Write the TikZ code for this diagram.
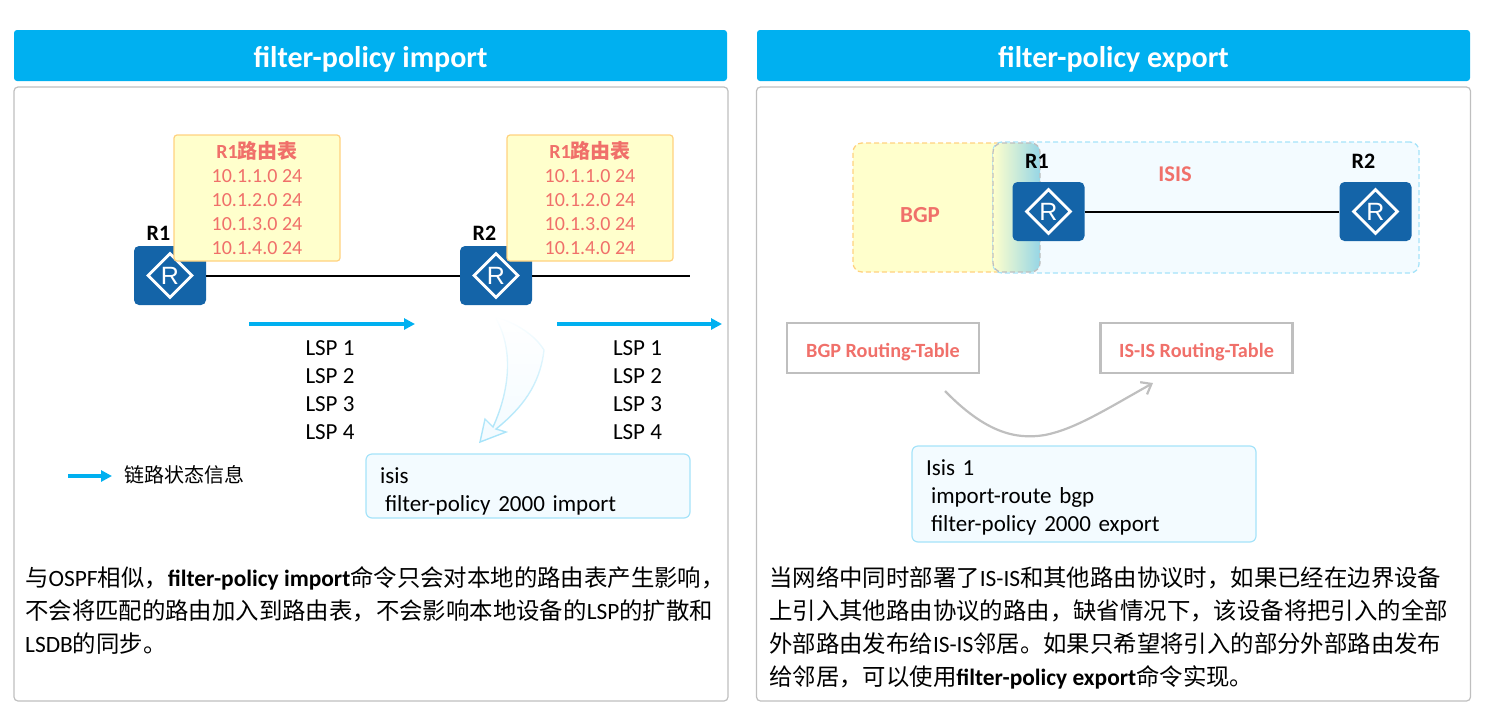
\documentclass[tikz,border=0pt]{standalone}
\usepackage{fontspec}
\setmainfont{Carlito}
\newfontfamily\cjk{Noto Sans CJK SC}
\newfontfamily\routerfont{Liberation Sans}
\usepackage{xcolor}
\usetikzlibrary{positioning,arrows.meta,shapes.geometric,fadings}
\definecolor{headblue}{HTML}{00B0F0}
\definecolor{routerblue}{HTML}{1464A8}
\definecolor{panelgray}{HTML}{BFBFBF}
\definecolor{softred}{HTML}{F0706A}
\definecolor{noteyellow}{HTML}{FFFFCC}
\definecolor{noteedge}{HTML}{FFD27F}
\definecolor{iceblue}{HTML}{F3FBFF}
\definecolor{iceedge}{HTML}{A5E3F9}
\definecolor{mixblue}{HTML}{96D6E6}

\begin{document}
\begin{tikzpicture}[
    x=1pt, y=-1pt,
    header/.style={fill=headblue, rounded corners=3pt, minimum width=713pt, minimum height=51pt, inner sep=0pt, text height=29pt, text depth=5pt, text=white, font=\fontsize{30}{34}\selectfont\bfseries},
    panel/.style={draw=panelgray, line width=1.2pt, rounded corners=4pt, minimum width=714pt, minimum height=614pt, inner sep=0pt},
    routerbox/.style={fill=routerblue, rounded corners=5pt, minimum width=72pt, minimum height=59pt, inner sep=0pt},
    routermark/.style={draw=white, diamond, aspect=1, line width=2.8pt, minimum size=45pt, inner sep=0pt, text=white, font=\routerfont\fontsize{25}{25}\selectfont},
    routername/.style={font=\fontsize{22}{26}\selectfont\bfseries},
    tablebox/.style={draw=noteedge, fill=noteyellow, line width=1.2pt, rounded corners=3pt, minimum width=166pt, minimum height=126pt, inner sep=0pt, align=center, text=softred, font=\fontsize{20}{24}\selectfont},
    lsplist/.style={align=center, inner sep=0pt, font=\fontsize{23}{28}\selectfont},
    cmdbox/.style={draw=iceedge, fill=iceblue, line width=1.2pt, rounded corners=6pt, inner ysep=0pt, inner xsep=14pt, align=left, font=\fontsize{23}{28}\selectfont},
    bodytext/.style={align=left, inner sep=0pt, anchor=north west, font=\fontsize{23.4}{33}\selectfont},
    rib/.style={draw=panelgray, line width=2.4pt, minimum width=192pt, minimum height=50pt, inner sep=0pt, text height=24pt, text depth=4.4pt, text=softred, font=\fontsize{20.2}{24}\selectfont\bfseries},
    zone/.style={dash pattern=on 5pt off 3pt, line width=1.3pt, rounded corners=9pt, inner sep=0pt},
    link/.style={black, line width=2pt},
    lsp/.style={headblue, line width=3.6pt, -{Triangle[length=11pt,width=11pt]}},
    redist/.style={panelgray, line width=2.2pt, -{Straight Barb[length=9pt,width=14pt]}}
]
\useasboundingbox (0,0) rectangle (1497,705);

\node[header] (headleft) at (370.5,55.5) {filter-policy import};
\node[header] (headright) at (1113.5,55.5) {filter-policy export};
\node[panel] (panelleft) at (371,394) {};
\node[panel] (panelright) at (1113.5,394) {};

\node[routerbox] (r1left) at (170,275.5) {};
\node[routermark] at (r1left) {R};
\node[routerbox] (r2left) at (496,275.5) {};
\node[routermark] at (r2left) {R};
\coordinate (linkend) at (690,275.5);
\draw[link] (r1left) -- (r2left);
\draw[link] (r2left) -- (linkend);
\node[routername] (namer1left) at (158.5,233) {R1};
\node[routername] (namer2left) at (484.5,233) {R2};

\node[tablebox] (tableone) at (257,198) {{\bfseries R1{\cjk 路由表}}\\10.1.1.0 24\\10.1.2.0 24\\10.1.3.0 24\\10.1.4.0 24};
\node[tablebox] (tabletwo) at (590,198) {{\bfseries R1{\cjk 路由表}}\\10.1.1.0 24\\10.1.2.0 24\\10.1.3.0 24\\10.1.4.0 24};

\coordinate (flowa) at (249,324);
\coordinate (flowb) at (415,324);
\coordinate (flowc) at (557,324);
\coordinate (flowd) at (722,324);
\draw[lsp] (flowa) -- (flowb);
\draw[lsp] (flowc) -- (flowd);
\node[lsplist] (lspone) at (330,390) {LSP 1\\LSP 2\\LSP 3\\LSP 4};
\node[lsplist] (lsptwo) at (637.5,390) {LSP 1\\LSP 2\\LSP 3\\LSP 4};

\coordinate (legenda) at (68,476);
\coordinate (legendb) at (112,476);
\draw[lsp] (legenda) -- (legendb);
\node[right=12pt of legendb, inner sep=0pt, yshift=1pt, font=\cjk\fontsize{20}{24}\selectfont] (legendtext) {链路状态信息};

\draw[draw=iceedge, fill=iceblue, line width=1.4pt, path fading=north]
    (495,317) .. controls (512,345) and (512,385) .. (493,427) -- (485,419) -- (480,442)
    -- (506,432) -- (496,429) .. controls (522,408) and (540,385) .. (544,350)
    .. controls (535,335) and (515,322) .. (495,317);

\node[cmdbox, minimum width=324pt, minimum height=64pt, text width=296pt] (cmdimport) at (528,486) {\rule{0pt}{26pt}isis\\\hspace*{5pt}filter-policy 2000 import};
\node[cmdbox, minimum width=344pt, minimum height=96pt, text width=316pt] (cmdexport) at (1084,494) {\rule{0pt}{22pt}Isis 1\\\hspace*{5pt}import-route bgp\\\hspace*{5pt}filter-policy 2000 export};

\node[bodytext] (bodyleft) at (25,566) {{\cjk 与}OSPF{\cjk 相似，}\textbf{filter-policy import}{\cjk 命令只会对本地的路由表产生影响，}\\{\cjk 不会将匹配的路由加入到路由表，不会影响本地设备的}LSP{\cjk 的扩散和}\\LSDB{\cjk 的同步。}};

\node[zone, draw=noteedge, fill=noteyellow, minimum width=187pt, minimum height=129pt] (zonebgp) at (946.5,207.5) {};
\node[zone, draw=iceedge, fill=iceblue, minimum width=426pt, minimum height=131pt] (zoneisis) at (1206,207.5) {};
\node[zone, draw=panelgray, left color=noteyellow, right color=mixblue, minimum width=47pt, minimum height=129pt] (zonemix) at (1016.5,207.5) {};
\node[font=\fontsize{23}{27}\selectfont\bfseries, text=softred] (labelbgp) at (920,215) {BGP};
\node[font=\fontsize{22.5}{26}\selectfont\bfseries, text=softred] (labelisis) at (1175,174) {ISIS};

\node[routerbox] (r1right) at (1048.5,211.5) {};
\node[routermark] at (r1right) {R};
\node[routerbox] (r2right) at (1375.5,211.5) {};
\node[routermark] at (r2right) {R};
\draw[link] (r1right) -- (r2right);
\node[routername] (namer1right) at (1037,161) {R1};
\node[routername] (namer2right) at (1363.5,161) {R2};

\node[rib] (ribbgp) at (883,348) {BGP Routing-Table};
\node[rib] (ribisis) at (1196.5,348) {IS-IS Routing-Table};

\coordinate (redista) at (945,391);
\coordinate (redistb) at (1153,383);
\draw[redist] (redista) .. controls (985,432) and (1015,440) .. (1045,435) .. controls (1075,429) and (1105,410) .. (redistb);

\node[bodytext] (bodyright) at (769,566) {{\cjk 当网络中同时部署了}IS-IS{\cjk 和其他路由协议时，如果已经在边界设备}\\{\cjk 上引入其他路由协议的路由，缺省情况下，该设备将把引入的全部}\\{\cjk 外部路由发布给}IS-IS{\cjk 邻居。如果只希望将引入的部分外部路由发布}\\{\cjk 给邻居，可以使用}\textbf{filter-policy export}{\cjk 命令实现。}};
\end{tikzpicture}
\end{document}
